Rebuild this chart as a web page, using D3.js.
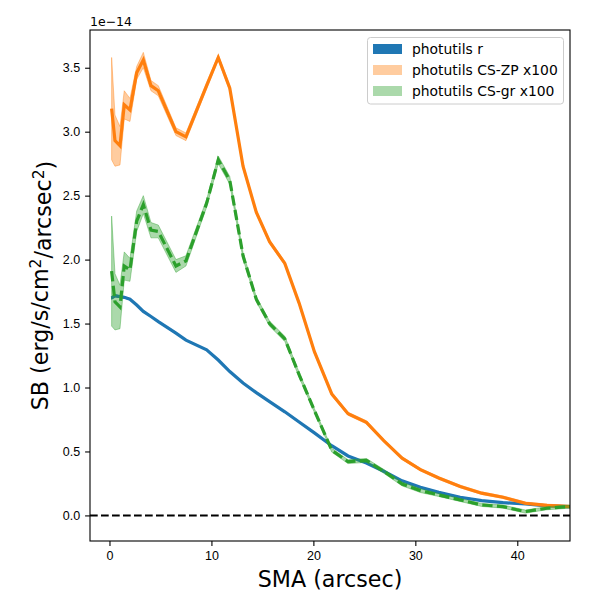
<!DOCTYPE html>
<meta charset="utf-8">

<script src="https://d3js.org/d3.v7.min.js"></script>

<style type="text/css">

body {
  margin: 0;
  background: white;
}

svg {
  display: block;
  font-family: "DejaVu Sans", sans-serif;
}

.axis text {
  font-size: 12.5px;
  fill: black;
}

.axis line {
  stroke: black;
  stroke-width: 1.1px;
}

.axis path {
  display: none;
}

.frame {
  fill: none;
  stroke: black;
  stroke-width: 1.1px;
}

.zeroLine {
  stroke: black;
  stroke-width: 2px;
  stroke-dasharray: 7.7 3.3;
}

.legend {
  fill: white;
  fill-opacity: 0.8;
  stroke: #cccccc;
  stroke-width: 1px;
}

.legend-text {
  font-size: 13.9px;
}

</style>

<body>

</body>

<script>

  // semi-major axis (arcsec)
  const sma = [0.21, 0.54, 1.03, 1.45, 2.01, 2.67, 3.32, 4.07, 4.79, 6.52, 7.5,
    9.53, 10.67, 11.8, 13.1, 14.4, 15.7, 17.2, 18.6, 20.1, 21.8, 23.4, 25.2,
    26.9, 28.7, 30.5, 32.3, 34.4, 36.5, 38.6, 40.8, 42.9, 45.2];

  // surface brightness in units of 1e-14
  const sbR = [1.70, 1.717, 1.71, 1.705, 1.69, 1.645, 1.595, 1.555, 1.515, 1.425, 1.37,
    1.295, 1.215, 1.125, 1.035, 0.96, 0.89, 0.81, 0.73, 0.645, 0.545, 0.465, 0.41,
    0.345, 0.27, 0.22, 0.18, 0.142, 0.116, 0.10, 0.09, 0.075, 0.069];
  const errR = [0.01, 0.008, 0.006, 0.005, 0.005, 0.004, 0.004, 0.004, 0.003, 0.003, 0.003,
    0.003, 0.003, 0.003, 0.003, 0.003, 0.003, 0.003, 0.003, 0.003, 0.003, 0.003, 0.003,
    0.003, 0.003, 0.003, 0.003, 0.003, 0.003, 0.003, 0.003, 0.003, 0.003];

  const sbZP = [3.18, 2.93, 2.89, 3.21, 3.17, 3.46, 3.56, 3.36, 3.32, 3.00, 2.96,
    3.36, 3.58, 3.34, 2.73, 2.37, 2.14, 1.97, 1.66, 1.28, 0.95, 0.795, 0.728,
    0.585, 0.448, 0.358, 0.292, 0.226, 0.174, 0.142, 0.095, 0.078, 0.069];
  const errZP = [0.40, 0.2, 0.15, 0.11, 0.09, 0.05, 0.06, 0.04, 0.04, 0.03, 0.03,
    0.025, 0.02, 0.02, 0.02, 0.015, 0.015, 0.015, 0.015, 0.015, 0.015, 0.012, 0.012,
    0.01, 0.01, 0.01, 0.01, 0.01, 0.01, 0.01, 0.01, 0.01, 0.01];

  const sbGR = [1.91, 1.67, 1.63, 1.95, 1.92, 2.30, 2.43, 2.23, 2.22, 1.95, 1.99,
    2.44, 2.78, 2.62, 2.03, 1.69, 1.50, 1.38, 1.10, 0.82, 0.51, 0.42, 0.43,
    0.345, 0.246, 0.194, 0.16, 0.121, 0.082, 0.069, 0.03, 0.056, 0.069];
  const errGR = [0.43, 0.22, 0.17, 0.11, 0.09, 0.08, 0.07, 0.06, 0.05, 0.05, 0.04,
    0.03, 0.03, 0.03, 0.025, 0.02, 0.02, 0.02, 0.02, 0.015, 0.015, 0.015, 0.015,
    0.015, 0.015, 0.015, 0.012, 0.012, 0.012, 0.012, 0.012, 0.012, 0.012];

  const xTicks = [0, 10, 20, 30, 40];
  const yTicks = [0, 0.5, 1.0, 1.5, 2.0, 2.5, 3.0, 3.5];
  const legendLabels = ["photutils r", "photutils CS-ZP x100", "photutils CS-gr x100"];

  const margin = {top: 30, right: 30, bottom: 59, left: 90};
  const outerWidth = 600;
  const outerHeight = 600;
  const innerWidth = outerWidth - margin.left - margin.right;
  const innerHeight = outerHeight - margin.top - margin.bottom;

  const SVG = d3.select("body").append("svg")
    .attr("width", outerWidth)
    .attr("height", outerHeight);

  const svg = SVG.append("g")
    .attr("transform", "translate(" + margin.left + "," + margin.top + ")");

  svg.append("clipPath")
      .attr("id", "plotClip")
    .append("rect")
      .attr("width", innerWidth)
      .attr("height", innerHeight);

  const xScale = d3.scaleLinear()
    .domain([-1.91, 45.17])
    .range([0, innerWidth]);

  const yScale = d3.scaleLinear()
    .domain([-0.2, 3.795])
    .range([innerHeight, 0]);

  const xAxis = d3.axisBottom(xScale)
    .tickValues(xTicks)
    .tickFormat(d3.format("d"))
    .tickSize(4.9)
    .tickPadding(4.9);

  const yAxis = d3.axisLeft(yScale)
    .tickValues(yTicks)
    .tickFormat(d3.format(".1f"))
    .tickSize(4.9)
    .tickPadding(4.9);

  svg.append("g")
    .attr("class", "x axis")
    .attr("transform", "translate(0," + innerHeight + ")")
    .call(xAxis);

  svg.append("g")
    .attr("class", "y axis")
    .call(yAxis);

  const plot = svg.append("g")
    .attr("clip-path", "url(#plotClip)");

  // zero level
  plot.append("line")
    .attr("class", "zeroLine")
    .attr("x1", 0)
    .attr("x2", innerWidth)
    .attr("y1", yScale(0))
    .attr("y2", yScale(0));

  const series = [
    {sb: sbR, err: errR, color: "#1f77b4", bandOpacity: 1, dash: null},
    {sb: sbZP, err: errZP, color: "#ff7f0e", bandOpacity: 0.4, dash: null},
    {sb: sbGR, err: errGR, color: "#2ca02c", bandOpacity: 0.4, dash: "10.3 4.4"}
  ];

  series.forEach(function(s) {
    const pts = sma.map(function(x, i) { return {x: x, y: s.sb[i], e: s.err[i]}; });

    const area = d3.area()
      .x(d => xScale(d.x))
      .y0(d => yScale(d.y - d.e))
      .y1(d => yScale(d.y + d.e));

    const line = d3.line()
      .x(d => xScale(d.x))
      .y(d => yScale(d.y));

    plot.append("path")
      .attr("d", area(pts))
      .style("fill", s.color)
      .style("fill-opacity", s.bandOpacity)
      .style("stroke", s.color)
      .style("stroke-opacity", s.bandOpacity)
      .style("stroke-width", 1);

    plot.append("path")
      .attr("d", line(pts))
      .style("fill", "none")
      .style("stroke", s.color)
      .style("stroke-width", 3.2)
      .style("stroke-dasharray", s.dash);
  });

  svg.append("rect")
    .attr("class", "frame")
    .attr("width", innerWidth)
    .attr("height", innerHeight);

  // offset text
  SVG.append("text")
    .attr("x", margin.left)
    .attr("y", 26)
    .style("font-size", "12.5px")
    .text("1e\u221214");

  // X AXIS LABEL
  SVG.append("text")
    .attr("x", margin.left + innerWidth / 2)
    .attr("y", 587)
    .style("text-anchor", "middle")
    .style("font-size", "22.2px")
    .text("SMA (arcsec)");

  // Y AXIS LABEL
  const yLabel = SVG.append("text")
    .attr("transform", "translate(48," + (margin.top + innerHeight / 2) + ") rotate(-90)")
    .style("text-anchor", "middle")
    .style("font-size", "22.2px");
  yLabel.append("tspan").text("SB (erg/s/cm");
  yLabel.append("tspan").attr("dy", "-0.45em").style("font-size", "15.5px").text("2");
  yLabel.append("tspan").attr("dy", "0.45em").text("/arcsec");
  yLabel.append("tspan").attr("dy", "-0.45em").style("font-size", "15.5px").text("2");
  yLabel.append("tspan").attr("dy", "0.45em").text(")");

  // LEGEND
  const legendX = 367.5;
  const legendY = 37.5;
  SVG.append("rect")
    .attr("class", "legend")
    .attr("x", legendX)
    .attr("y", legendY)
    .attr("width", 196)
    .attr("height", 66.5)
    .attr("rx", 3)
    .attr("ry", 3);

  legendLabels.forEach(function(label, i) {
    const cy = 49 + i * 21;
    SVG.append("rect")
      .attr("x", 373)
      .attr("y", cy - 5)
      .attr("width", 29)
      .attr("height", 10)
      .style("fill", series[i].color)
      .style("fill-opacity", series[i].bandOpacity);

    SVG.append("text")
      .attr("class", "legend-text")
      .attr("x", 412)
      .attr("y", cy + 5)
      .text(label);
  });

</script>
